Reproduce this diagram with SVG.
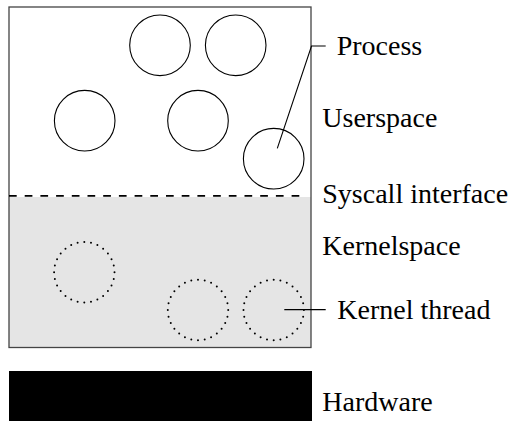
<svg xmlns="http://www.w3.org/2000/svg" width="518" height="421" viewBox="0 0 518 421">
  <style>
    .proc { fill: none; stroke: #000; stroke-width: 1.1; }
    .kthread { fill: none; stroke: #000; stroke-width: 2; stroke-linecap: round; stroke-dasharray: 0 1; }
    .leader { fill: none; stroke: #000; stroke-width: 1.1; }
  </style>
  <rect width="518" height="421" fill="#fff"/>

  <!-- system box: userspace above, kernelspace (shaded) below -->
  <g id="system">
    <rect x="9" y="197" width="302" height="150.5" fill="#e5e5e5"/>
    <rect x="9" y="7" width="302" height="340.5" fill="none" stroke="#444" stroke-width="1.3"/>
    <line id="syscall-interface" x1="9" y1="195.8" x2="305" y2="195.8" stroke="#000" stroke-width="1.7" stroke-dasharray="7.7 8"/>
  </g>

  <!-- user processes -->
  <g id="process-1"><circle class="proc" cx="160" cy="45.3" r="30.3"/></g>
  <g id="process-2"><circle class="proc" cx="235.7" cy="45.3" r="30.3"/></g>
  <g id="process-3"><circle class="proc" cx="84.7" cy="120.7" r="30.3"/></g>
  <g id="process-4"><circle class="proc" cx="198" cy="120.7" r="30.3"/></g>
  <g id="process-5"><circle class="proc" cx="273.7" cy="158.7" r="30.3"/></g>

  <!-- kernel threads -->
  <g id="kthread-1"><circle class="kthread" cx="84.3" cy="272.3" r="30.2" pathLength="28"/></g>
  <g id="kthread-2"><circle class="kthread" cx="198" cy="310" r="30.2" pathLength="28"/></g>
  <g id="kthread-3"><circle class="kthread" cx="273.7" cy="310" r="30.2" pathLength="28"/></g>

  <!-- hardware -->
  <g id="hardware"><rect x="9" y="371" width="303" height="50" fill="#000"/></g>

  <!-- leader lines -->
  <g id="connectors">
    <polyline class="leader" points="277.3,148.3 311.5,46 325.7,46"/>
    <line class="leader" x1="284.3" y1="309.6" x2="325.7" y2="309.6"/>
  </g>

  <!-- captions -->
  <g id="captions">
    <text x="336.7" y="55" font-family="Liberation Serif" font-size="28">Process</text>
    <text x="322.3" y="126.7" font-family="Liberation Serif" font-size="28">Userspace</text>
    <text x="322.3" y="203.3" font-family="Liberation Serif" font-size="28">Syscall interface</text>
    <text x="322.3" y="255" font-family="Liberation Serif" font-size="28">Kernelspace</text>
    <text x="337.3" y="319.3" font-family="Liberation Serif" font-size="28">Kernel thread</text>
    <text x="322.3" y="410.7" font-family="Liberation Serif" font-size="28">Hardware</text>
  </g>
</svg>
